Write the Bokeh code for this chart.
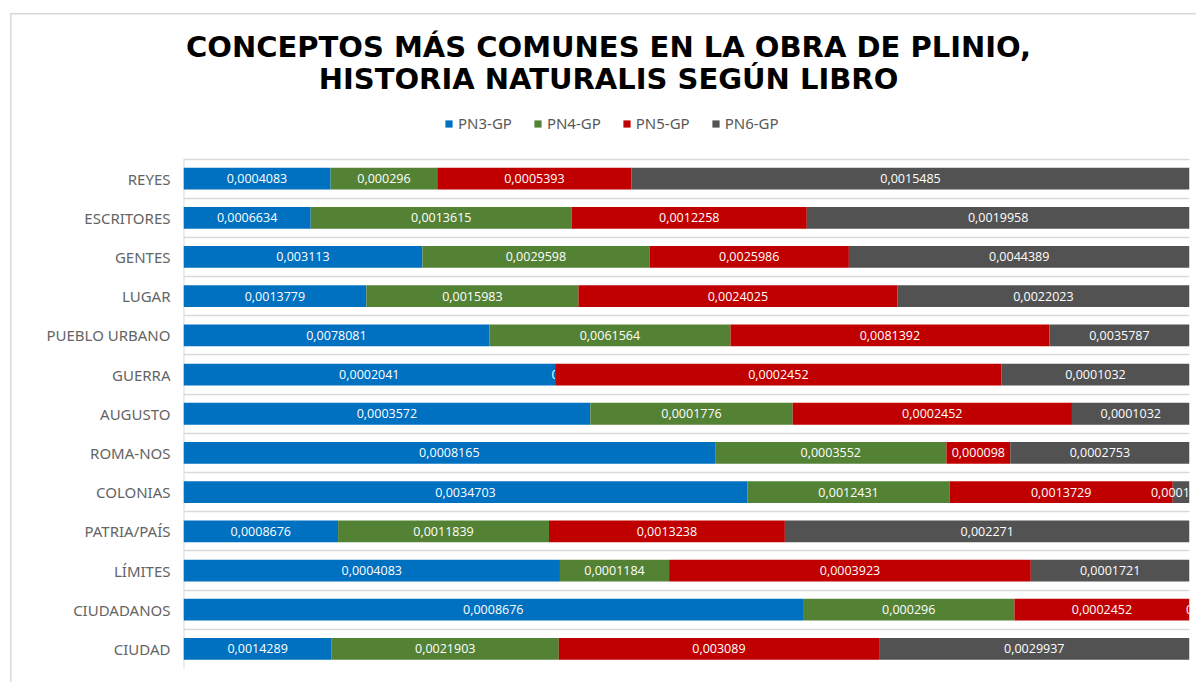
import numpy as np
from bokeh.plotting import figure
from bokeh.models import (ColumnDataSource, Label, FixedTicker, Legend, LegendItem, Range1d)
from bokeh.core.properties import value
from bokeh.embed import file_html
from bokeh.resources import INLINE

# ---------------- data ----------------
categories = ["REYES", "ESCRITORES", "GENTES", "LUGAR", "PUEBLO URBANO", "GUERRA",
              "AUGUSTO", "ROMA-NOS", "COLONIAS", "PATRIA/PAÍS", "LÍMITES",
              "CIUDADANOS", "CIUDAD"]
series_names = ["PN3-GP", "PN4-GP", "PN5-GP", "PN6-GP"]
pn3 = [0.0004083, 0.0006634, 0.003113, 0.0013779, 0.0078081, 0.0002041, 0.0003572,
       0.0008165, 0.0034703, 0.0008676, 0.0004083, 0.0008676, 0.0014289]
pn4 = [0.000296, 0.0013615, 0.0029598, 0.0015983, 0.0061564, 0.0, 0.0001776,
       0.0003552, 0.0012431, 0.0011839, 0.0001184, 0.000296, 0.0021903]
pn5 = [0.0005393, 0.0012258, 0.0025986, 0.0024025, 0.0081392, 0.0002452, 0.0002452,
       0.000098, 0.0013729, 0.0013238, 0.0003923, 0.0002452, 0.003089]
pn6 = [0.0015485, 0.0019958, 0.0044389, 0.0022023, 0.0035787, 0.0001032, 0.0001032,
       0.0002753, 0.0001032, 0.002271, 0.0001721, 0.0, 0.0029937]
colors = ["#0070C0", "#548235", "#C00000", "#525252"]
title_lines = ["CONCEPTOS MÁS COMUNES EN LA OBRA DE PLINIO,",
               "HISTORIA NATURALIS SEGÚN LIBRO"]

# ---------------- derived ----------------
series = [np.array(s, dtype=float) for s in (pn3, pn4, pn5, pn6)]
totals = np.sum(series, axis=0)
n = len(categories)
ypos = np.array([n - 1 - i + 0.5 for i in range(n)])


def fmt(v):
    s = f"{v:.7f}".rstrip("0").rstrip(".")
    return s.replace(".", ",")


W, H = 1196, 682
LEFT, RIGHT, BOTTOM = 183, 7, 14
PLOT_TOP = 158.5           # pixel row where the bar area starts
frame_h = H - BOTTOM       # frame spans from the top of the canvas
y_top = n * frame_h / (frame_h - PLOT_TOP)

p = figure(width=W, height=H, output_backend="svg", toolbar_location=None,
           x_range=Range1d(0, 1), y_range=Range1d(0, y_top),
           min_border_left=LEFT, min_border_right=RIGHT,
           min_border_top=0, min_border_bottom=BOTTOM)
p.outline_line_color = None
# transparent canvas so the chart-area border drawn by CSS shows through
p.background_fill_alpha = 0
p.border_fill_alpha = 0
p.styles = {
    "background-color": "white",
    "background-image": "linear-gradient(#D9D9D9, #D9D9D9), linear-gradient(#D9D9D9, #D9D9D9)",
    "background-size": "1.5px 100%, 100% 1.5px",
    "background-position": "10px 13px, 10px 13px",
    "background-repeat": "no-repeat",
}

# gridlines at category boundaries
p.xaxis.visible = False
p.xgrid.visible = False
p.ygrid.ticker = FixedTicker(ticks=list(range(n + 1)))
p.ygrid.grid_line_color = "#D9D9D9"
p.ygrid.grid_line_width = 1.5

# vertical category-axis line limited to the bar area
p.segment(x0=[0], y0=[0], x1=[0], y1=[n], line_color="#D9D9D9", line_width=2)

items = []
left = np.zeros(n)
for name, vals, col in zip(series_names, series, colors):
    frac = vals / totals
    right = left + frac
    src = ColumnDataSource(dict(y=ypos, left=left, right=right,
                                mid=(left + right) / 2,
                                lab=[fmt(v) for v in vals]))
    r = p.hbar(y="y", left="left", right="right", height=0.555, source=src,
               fill_color=col, line_color=None)
    p.text(x="mid", y="y", text="lab", source=src, text_align="center",
           text_baseline="middle", text_color="white",
           text_font=value("Open Sans"), text_font_size="12.5px")
    items.append(LegendItem(label=name, renderers=[r]))
    left = right

# category axis
p.yaxis.ticker = FixedTicker(ticks=list(ypos))
p.yaxis.major_label_overrides = {float(y): c for y, c in zip(ypos, categories)}
p.yaxis.axis_line_color = None
p.yaxis.major_tick_line_color = None
p.yaxis.minor_tick_line_color = None
p.yaxis.major_label_standoff = 7
p.yaxis.major_label_text_font = "Noto Sans"
p.yaxis.major_label_text_font_size = "15px"
p.yaxis.major_label_text_color = "#646464"

# legend
legend = Legend(items=items, orientation="horizontal", location=(261, frame_h - 133),
                glyph_width=9, glyph_height=9, label_standoff=5, spacing=21,
                padding=0, margin=0, border_line_color=None,
                background_fill_alpha=0,
                label_text_font="Noto Sans", label_text_font_size="15px",
                label_text_color="#595959")
p.add_layout(legend, "center")

# title
for txt, cy in zip(title_lines, [46, 78]):
    p.add_layout(Label(x=608 - LEFT, y=frame_h - cy, x_units="screen", y_units="screen",
                       text=txt, text_align="center", text_baseline="middle",
                       text_font="DejaVu Sans", text_font_style="bold",
                       text_font_size="29px", text_color="black"))

open("out.html", "w").write(file_html(p, INLINE))
